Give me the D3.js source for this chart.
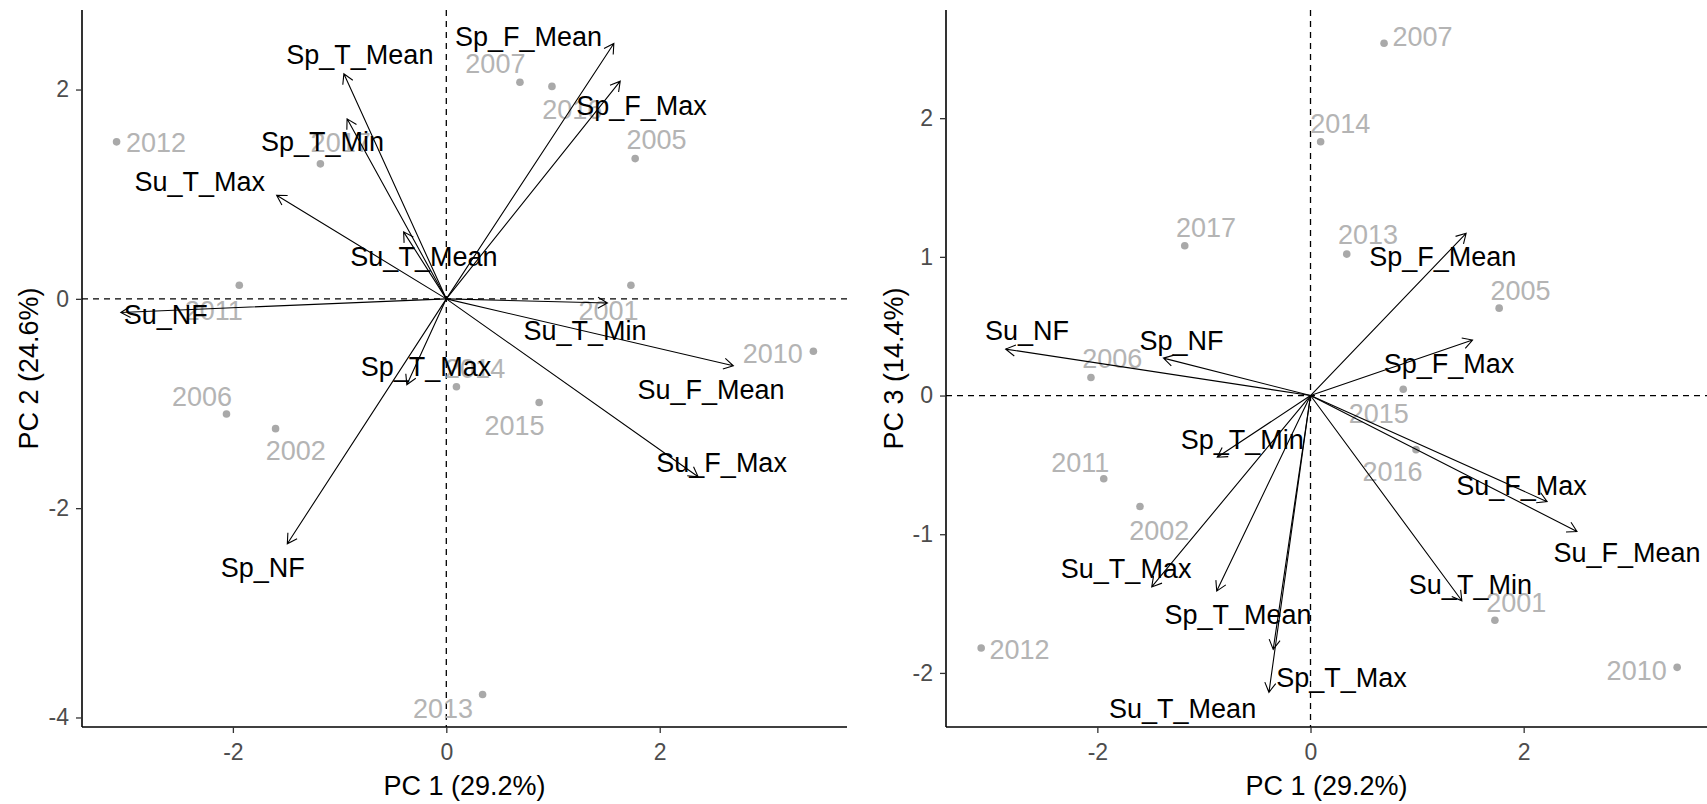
<!DOCTYPE html>
<html>
<head>
<meta charset="utf-8">
<script src="https://cdn.jsdelivr.net/npm/d3@7"></script>
<style>
  body { margin: 0; background: #fff; }
  svg { display: block; font-family: "Liberation Sans", Arial, sans-serif; }
</style>
</head>
<body>
<script>
// years (observations)
const years = ["2001","2002","2005","2006","2007","2010","2011","2012","2013","2014","2015","2016","2017"];
const pc1 = [1.73, -1.60, 1.77, -2.06, 0.69, 3.44, -1.94, -3.09, 0.34, 0.095, 0.87, 0.99, -1.18];
const pc2 = [0.13, -1.24, 1.34, -1.10, 2.07, -0.50, 0.13, 1.50, -3.78, -0.84, -0.99, 2.03, 1.29];
const pc3 = [-1.62, -0.80, 0.63, 0.13, 2.54, -1.96, -0.60, -1.82, 1.02, 1.83, 0.045, -0.39, 1.08];

// repelled year label positions (data units)
const yearLab12X = [1.52, -1.41, 1.97, -2.29, 0.46, 3.06, -2.18, -2.72, -0.03, 0.27, 0.64, 1.18, -0.99];
const yearLab12Y = [-0.11, -1.45, 1.52, -0.93, 2.25, -0.52, -0.11, 1.49, -3.91, -0.67, -1.21, 1.81, 1.49];
const yearLab13X = [1.93, -1.42, 1.97, -1.86, 1.05, 3.06, -2.16, -2.73, 0.54, 0.28, 0.64, 0.77, -0.98];
const yearLab13Y = [-1.49, -0.97, 0.76, 0.27, 2.59, -1.98, -0.48, -1.83, 1.16, 1.96, -0.13, -0.55, 1.21];

// variables (loadings arrows)
const vars = ["Sp_NF","Sp_T_Mean","Sp_T_Min","Sp_T_Max","Sp_F_Mean","Sp_F_Max",
              "Su_NF","Su_T_Mean","Su_T_Min","Su_T_Max","Su_F_Mean","Su_F_Max"];
const load12X = [-1.49, -0.96, -0.93, -0.37, 1.57, 1.63, -3.05, -0.40, 1.51, -1.59, 2.69, 2.36];
const load12Y = [-2.34, 2.15, 1.72, -0.82, 2.44, 2.08, -0.13, 0.64, -0.04, 0.99, -0.64, -1.70];
const load13X = [-1.38, -0.88, -0.875, -0.35, 1.46, 1.52, -2.86, -0.39, 1.42, -1.49, 2.50, 2.22];
const load13Y = [0.27, -1.41, -0.445, -1.83, 1.17, 0.40, 0.335, -2.14, -1.48, -1.38, -0.98, -0.765];

const varLab12X = [-1.72, -0.81, -1.16, -0.19, 0.77, 1.83, -2.63, -0.21, 1.30, -2.31, 2.48, 2.58];
const varLab12Y = [-2.57, 2.33, 1.50, -0.65, 2.51, 1.85, -0.15, 0.40, -0.30, 1.12, -0.87, -1.56];
const varLab13X = [-1.21, -0.68, -0.64, 0.29, 1.24, 1.30, -2.66, -1.20, 1.50, -1.73, 2.97, 1.98];
const varLab13Y = [0.40, -1.58, -0.32, -2.03, 1.00, 0.23, 0.47, -2.26, -1.36, -1.25, -1.13, -0.65];

const xTicks = [-2, 0, 2];

const w = 1707;
const h = 804;

const svg = d3.select("body")
  .append("svg")
  .attr("width", w)
  .attr("height", h);

function drawPanel(p) {
  const x = d3.scaleLinear().domain(p.xDomain).range([p.left, p.right]);
  const y = d3.scaleLinear().domain(p.yDomain).range([p.bottom, p.top]);
  const g = svg.append("g");

  // reference lines
  g.append("line")
    .attr("x1", x(0)).attr("x2", x(0))
    .attr("y1", p.top).attr("y2", p.bottom)
    .attr("stroke", "#000").attr("stroke-width", 1.3)
    .attr("stroke-dasharray", "6,5");
  g.append("line")
    .attr("x1", p.left).attr("x2", p.right)
    .attr("y1", y(0)).attr("y2", y(0))
    .attr("stroke", "#000").attr("stroke-width", 1.3)
    .attr("stroke-dasharray", "6,5");

  // points
  g.selectAll("circle.pt")
    .data(years)
    .join("circle")
    .attr("class", "pt")
    .attr("cx", (d, i) => x(pc1[i]))
    .attr("cy", (d, i) => y(p.py[i]))
    .attr("r", 3.8)
    .style("fill", "#a9a9a9");

  g.selectAll("text.yr")
    .data(years)
    .join("text")
    .attr("class", "yr")
    .text((d) => d)
    .attr("x", (d, i) => x(p.labX[i]))
    .attr("y", (d, i) => y(p.labY[i]))
    .attr("dy", "0.35em")
    .attr("text-anchor", "middle")
    .style("font-size", "27px")
    .style("fill", "#b4b4b4");

  // arrows
  const head = 11;
  const ang = Math.PI / 6;
  g.selectAll("path.arrow")
    .data(vars)
    .join("path")
    .attr("class", "arrow")
    .attr("d", (d, i) => {
      const x0 = x(0), y0 = y(0);
      const x1 = x(p.lx[i]), y1 = y(p.ly[i]);
      const a = Math.atan2(y1 - y0, x1 - x0);
      const ax = x1 - head * Math.cos(a - ang), ay = y1 - head * Math.sin(a - ang);
      const bx = x1 - head * Math.cos(a + ang), by = y1 - head * Math.sin(a + ang);
      return `M${x0},${y0}L${x1},${y1}M${ax},${ay}L${x1},${y1}L${bx},${by}`;
    })
    .attr("fill", "none")
    .attr("stroke", "#000")
    .attr("stroke-width", 1.1);

  g.selectAll("text.var")
    .data(vars)
    .join("text")
    .attr("class", "var")
    .text((d) => d)
    .attr("x", (d, i) => x(p.vx[i]))
    .attr("y", (d, i) => y(p.vy[i]))
    .attr("dy", "0.35em")
    .attr("text-anchor", "middle")
    .style("font-size", "27px")
    .style("fill", "#000");

  // axes
  const xAxis = g.append("g")
    .attr("transform", `translate(0,${p.bottom})`)
    .call(d3.axisBottom(x).tickValues(xTicks).tickSize(6).tickPadding(11).tickFormat((d) => String(d)));
  const yAxis = g.append("g")
    .attr("transform", `translate(${p.left},0)`)
    .call(d3.axisLeft(y).tickValues(p.yTicks).tickSize(6).tickPadding(7).tickFormat((d) => String(d)));

  [xAxis, yAxis].forEach((ax) => {
    ax.select(".domain").attr("stroke", "#000").attr("stroke-width", 1.6);
    ax.selectAll(".tick line").attr("stroke", "#333").attr("stroke-width", 1.3);
    ax.selectAll(".tick text")
      .style("font-size", "23px")
      .style("font-family", '"Liberation Sans", Arial, sans-serif')
      .style("fill", "#4d4d4d");
  });
  // keep axis lines to the panel only (no outer ticks)
  xAxis.select(".domain").attr("d", `M${p.left},0H${p.right}`);
  yAxis.select(".domain").attr("d", `M0,${p.bottom}V${p.top}`);

  g.append("text")
    .text(p.xTitle)
    .attr("x", (p.left + p.right) / 2)
    .attr("y", 786)
    .attr("dy", "0.35em")
    .attr("text-anchor", "middle")
    .style("font-size", "27px")
    .style("fill", "#000");

  g.append("text")
    .text(p.yTitle)
    .attr("transform", `translate(${p.yTitleX},${(p.top + p.bottom) / 2}) rotate(-90)`)
    .attr("dy", "0.35em")
    .attr("text-anchor", "middle")
    .style("font-size", "27px")
    .style("fill", "#000");
}

drawPanel({
  left: 82, right: 847, top: 10, bottom: 727,
  xDomain: [-3.414, 3.755], yDomain: [-4.091, 2.760],
  yTicks: [-4, -2, 0, 2],
  py: pc2, labX: yearLab12X, labY: yearLab12Y,
  lx: load12X, ly: load12Y, vx: varLab12X, vy: varLab12Y,
  xTitle: "PC 1 (29.2%)", yTitle: "PC 2 (24.6%)", yTitleX: 29
});

drawPanel({
  left: 946, right: 1707, top: 10, bottom: 727,
  xDomain: [-3.42, 3.72], yDomain: [-2.39, 2.78],
  yTicks: [-2, -1, 0, 1, 2],
  py: pc3, labX: yearLab13X, labY: yearLab13Y,
  lx: load13X, ly: load13Y, vx: varLab13X, vy: varLab13Y,
  xTitle: "PC 1 (29.2%)", yTitle: "PC 3 (14.4%)", yTitleX: 894
});
</script>
</body>
</html>
